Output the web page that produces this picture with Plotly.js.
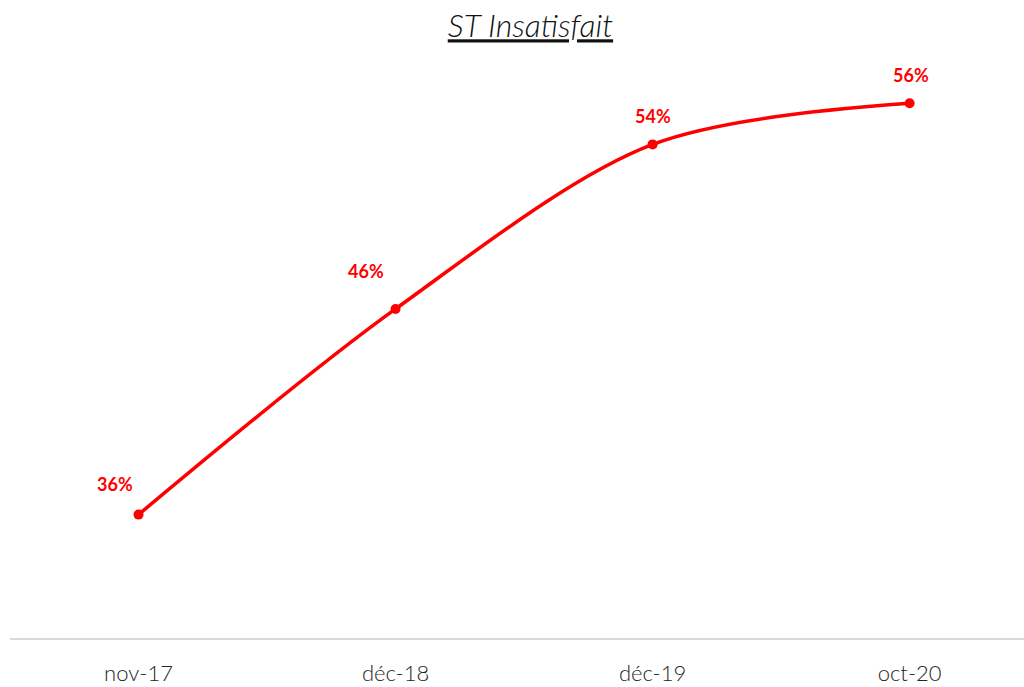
<!DOCTYPE html>
<html><head><meta charset="utf-8">
<script src="https://cdn.plot.ly/plotly-3.0.1.min.js"></script>
<style>html,body{margin:0;padding:0;background:#fff}#chart{width:1024px;height:687px}</style>
</head><body><div id="chart"></div>
<script>
const categories = ["nov-17", "déc-18", "déc-19", "oct-20"];
const values = [36, 46, 54, 56];
const labels = ["36%", "46%", "54%", "56%"];

// label offsets (px) - style only
const labelDx = [-24, -30, 0, 1];
const labelDy = [31, 38, 28, 28];

const trace = {
  x: categories, y: values, type: "scatter", mode: "lines+markers",
  line: {color: "#ff0000", width: 3.5, shape: "spline", smoothing: 0.9},
  marker: {color: "#ff0000", size: 10},
  hoverinfo: "skip"
};

const annotations = categories.map((c, i) => ({
  x: c, y: values[i], text: "<b>" + labels[i] + "</b>", showarrow: false,
  xshift: labelDx[i], yshift: labelDy[i],
  font: {family: "Lato, 'Open Sans', sans-serif", size: 18, color: "#ff0000"}
}));

const layout = {
  width: 1024, height: 687,
  margin: {l: 10, r: 0, t: 21, b: 49},
  paper_bgcolor: "#fff", plot_bgcolor: "#fff",
  showlegend: false,
  title: {text: "<u><i>ST Insatisfait</i></u>", x: 0.518, xanchor: "center", y: 0.962, yanchor: "middle",
          font: {family: "Lato, 'Open Sans', sans-serif", size: 32, color: "#111111", weight: 300}},
  xaxis: {type: "category", range: [-0.5, 3.445], showgrid: false, zeroline: false,
          showline: true, linecolor: "#d9d9d9", linewidth: 2,
          ticks: "outside", ticklen: 15, tickcolor: "rgba(0,0,0,0)",
          tickfont: {family: "Lato, 'Open Sans', sans-serif", size: 22, color: "#262626", weight: 300}},
  yaxis: {range: [30, 60], visible: false, showgrid: false, zeroline: false},
  annotations: annotations
};

Plotly.newPlot("chart", [trace], layout, {displayModeBar: false, staticPlot: true});
</script></body></html>
